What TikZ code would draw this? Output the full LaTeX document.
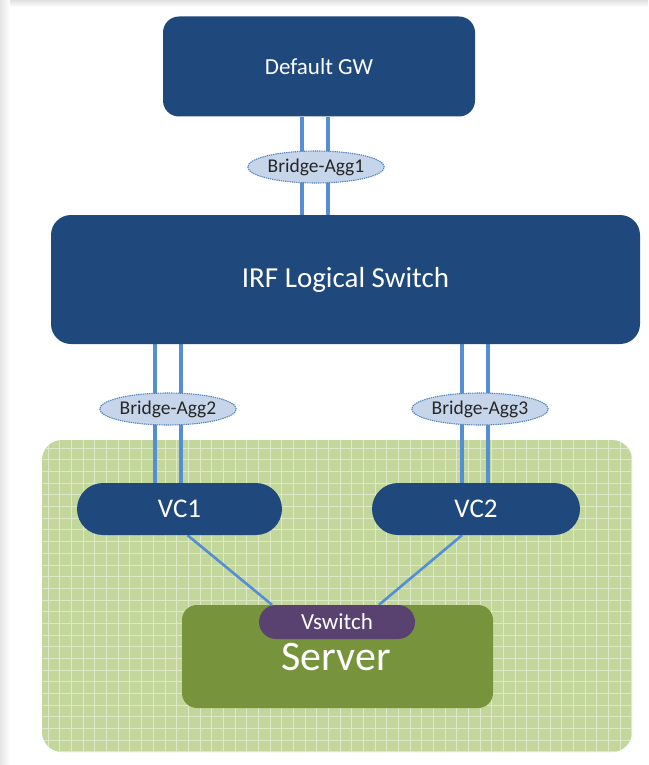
\documentclass[tikz,border=0pt]{standalone}
\usepackage{fontspec}
\setmainfont{Carlito}
\usetikzlibrary{shapes.geometric,calc}
\definecolor{navy}{HTML}{1F497D}
\definecolor{linkblue}{HTML}{558ED5}
\definecolor{aggfill}{HTML}{C6D5EA}
\definecolor{aggedge}{HTML}{4F81BD}
\definecolor{zonegreen}{HTML}{C3D69B}
\definecolor{gridline}{HTML}{DCE8C6}
\definecolor{servergreen}{HTML}{77933C}
\definecolor{vsw}{HTML}{59426F}
\pgfdeclarelayer{zone}
\pgfdeclarelayer{links}
\pgfsetlayers{zone,links,main}
\tikzset{
  devbox/.style={fill=navy, text=white, inner sep=0pt, align=center},
  agg/.style={ellipse, fill=aggfill, draw=aggedge, line width=1.1pt,
    dash pattern=on 1.3pt off 0.9pt, minimum width=136pt, minimum height=32pt,
    inner sep=0pt, text=black!85, font=\fontsize{19.5}{22}\selectfont},
  uplink/.style={draw=linkblue, line width=4pt},
  vlink/.style={draw=linkblue, line width=2.6pt},
}
\begin{document}
\begin{tikzpicture}[x=1pt,y=-1pt]
\useasboundingbox (0,0) rectangle (648,765);
% page edge shading
\fill[top color=black!12, bottom color=white] (0,0) rectangle (648,7);
\fill[left color=black!10, right color=white] (0,0) rectangle (10,765);

% green zone with white grid
\begin{pgfonlayer}{zone}
  \fill[zonegreen, rounded corners=20pt] (42,440) rectangle (632,752);
  \begin{scope}
    \clip[rounded corners=20pt] (42,440) rectangle (632,752);
    \foreach \gx in {48.3,59.97,...,632}
      \draw[gridline, line width=1pt] (\gx,440) -- (\gx,752);
    \foreach \gy in {448.3,459.97,...,752}
      \draw[gridline, line width=1pt] (42,\gy) -- (632,\gy);
  \end{scope}
\end{pgfonlayer}

% devices
\node[devbox, rounded corners=16pt, minimum width=312pt, minimum height=100pt,
  font=\fontsize{23}{26}\selectfont] (gw) at (319,66.5) {Default GW};
\node[devbox, rounded corners=20pt, minimum width=589pt, minimum height=129pt,
  font=\fontsize{29}{34}\selectfont] (irf) at (345.5,279.5) {IRF Logical Switch};
\node[devbox, rounded corners=26pt, minimum width=205pt, minimum height=52pt,
  font=\fontsize{27}{30}\selectfont] (vc1) at (179.5,509) {VC1};
\node[devbox, rounded corners=26pt, minimum width=208pt, minimum height=52pt,
  font=\fontsize{27}{30}\selectfont] (vc2) at (476,509) {VC2};
\node[fill=servergreen, text=white, rounded corners=15pt, minimum width=311pt,
  minimum height=103pt, inner sep=0pt] (server) at (337.5,656.5) {};
\node[text=white, font=\fontsize{42}{46}\selectfont, inner sep=0pt] (servertext)
  at (336,657) {Server};
\node[fill=vsw, text=white, rounded corners=17pt, minimum width=156pt,
  minimum height=34pt, inner sep=0pt, font=\fontsize{23}{26}\selectfont]
  (vswitch) at (337,622) {Vswitch};

% link aggregation groups
\node[agg] (agg1) at (316,167) {Bridge-Agg1};
\node[agg] (agg2) at (168,409) {Bridge-Agg2};
\node[agg] (agg3) at (480,409) {Bridge-Agg3};

% links
\begin{pgfonlayer}{links}
  \foreach \dx in {-14,12} {
    \draw[uplink] ([xshift=\dx pt]agg1.center |- gw.south) -- ([xshift=\dx pt]agg1.center |- irf.north);
  }
  \foreach \dx in {-13,13} {
    \draw[uplink] ([xshift=\dx pt]agg2.center |- irf.south) -- ([xshift=\dx pt]agg2.center |- vc1.north);
  }
  \foreach \dx in {-18,8} {
    \draw[uplink] ([xshift=\dx pt]agg3.center |- irf.south) -- ([xshift=\dx pt]agg3.center |- vc2.north);
  }
  \draw[vlink] ([xshift=8pt]vc1.south) -- ([xshift=-65pt]vswitch.north);
  \draw[vlink] ([xshift=-14pt]vc2.south) -- ([xshift=42pt]vswitch.north);
\end{pgfonlayer}
\end{tikzpicture}
\end{document}
